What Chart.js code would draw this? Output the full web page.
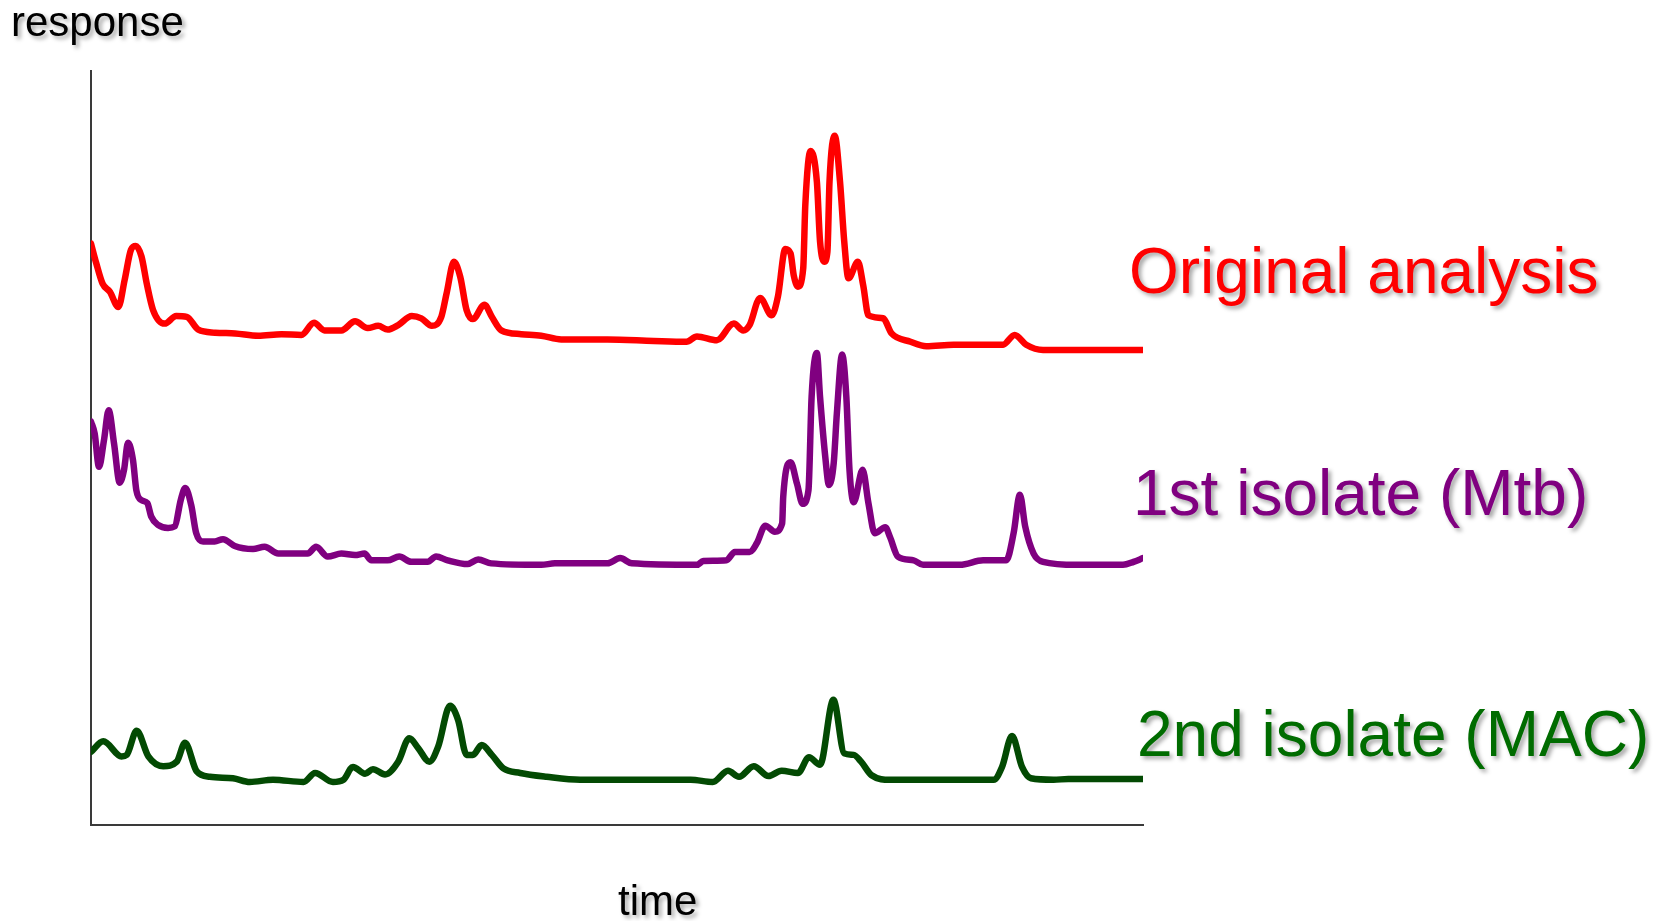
<!DOCTYPE html>
<html>
<head>
<meta charset="utf-8">
<title>response vs time</title>
<script src="https://cdn.jsdelivr.net/npm/chart.js@4.4.1/dist/chart.umd.min.js"></script>
<style>
    body { margin: 0; background: #fff; }
    #wrap { width: 1672px; height: 921px; }
</style>
</head>
<body>
<div id="wrap"><canvas id="traceChart" width="1672" height="921"></canvas></div>
<script>
//=============Trace data (time and response, both 0-100)====================//
const seriesLabels = ['Original analysis', '1st isolate (Mtb)', '2nd isolate (MAC)'];
const seriesColors = ['#ff0000', '#800080', '#034a03'];
const labelColors = ['#ff0000', '#800080', '#006c00'];

const originalTime = [0, 0.5, 1.1, 1.8, 2.6, 3.2, 3.8, 4.25, 4.8, 5.3, 5.9, 7.0, 8.1, 9.1, 10.2, 11.8, 13.7, 15.9, 18.1, 20.0,
    21.2, 22.2, 23.8, 25.1, 26.3, 27.3, 28.2, 29.2, 30.5, 31.4, 32.4, 33.3, 33.8, 34.5, 35.1, 35.7, 36.3, 37.4, 38.1, 39.0,
    40.9, 42.8, 44.7, 49.1, 53.5, 56.6, 57.6, 59.5, 61.1, 62.0, 62.6, 63.6, 64.7, 65.3, 66.0, 66.5, 66.8, 67.2, 67.7, 67.9,
    68.4, 69.0, 69.3, 69.7, 70.0, 70.2, 70.7, 71.2, 71.6, 72.0, 72.9, 73.4, 73.9, 75.3, 76.1, 77.9, 79.4, 82.0, 86.7, 87.8,
    88.9, 90.5, 100];
const originalResponse = [77.1, 74.5, 71.8, 70.7, 68.7, 72.3, 76.3, 76.8, 75.4, 71.8, 68.3, 66.5, 67.5, 67.4, 65.7, 65.3, 65.2, 64.9, 65.1, 65.0,
    66.6, 65.6, 65.6, 66.8, 65.9, 66.2, 65.7, 66.3, 67.5, 67.2, 66.2, 67.4, 70.5, 74.7, 72.7, 68.3, 67.1, 69.0, 67.4, 65.6,
    65.1, 64.9, 64.4, 64.4, 64.2, 64.1, 64.8, 64.3, 66.5, 65.6, 66.3, 69.9, 67.6, 70.1, 76.4, 75.8, 72.9, 71.4, 73.8, 82.2,
    89.4, 85.3, 77.4, 74.7, 76.0, 85.3, 91.4, 85.3, 77.4, 72.5, 74.7, 71.6, 67.6, 67.2, 65.2, 64.1, 63.5, 63.7, 63.7, 65.0,
    63.7, 63.0, 63.0];

const mtbTime = [0, 0.35, 0.76, 1.24, 1.68, 2.19, 2.73, 3.14, 3.52, 3.99, 4.31, 4.78, 5.35, 5.73, 6.37, 7.32, 7.96, 8.53, 8.96, 9.53,
    10.0, 10.65, 11.76, 12.55, 13.66, 15.4, 16.5, 17.8, 20.6, 21.4, 22.5, 23.8, 25.1, 26.0, 26.65, 28.2, 29.3, 30.45, 32.0, 32.8,
    33.9, 35.8, 36.8, 38.05, 42.8, 44.1, 49.1, 50.3, 51.4, 57.6, 58.2, 60.4, 61.2, 62.6, 63.3, 64.1, 65.0, 65.7, 65.8, 66.5,
    67.1, 67.65, 68.2, 68.5, 69.0, 69.3, 69.8, 70.15, 70.6, 70.9, 71.4, 71.8, 72.1, 72.5, 73.35, 73.9, 74.5, 75.5, 75.95, 76.7,
    78.2, 79.1, 82.6, 84.8, 87.0, 87.7, 88.3, 88.8, 89.6, 90.5, 93.7, 98.1, 99.1, 100];
const mtbResponse = [53.5, 51.9, 47.5, 51.1, 55.0, 50.6, 45.4, 47.1, 50.7, 48.4, 44.4, 43.1, 42.7, 40.9, 39.8, 39.4, 39.6, 43.1, 44.7, 42.4,
    38.7, 37.6, 37.6, 37.9, 37.0, 36.6, 36.9, 36.0, 36.0, 36.9, 35.6, 36.0, 35.8, 36.0, 35.1, 35.1, 35.6, 34.9, 34.9, 35.6,
    35.1, 34.6, 35.2, 34.7, 34.5, 34.7, 34.7, 35.4, 34.7, 34.5, 35.0, 35.1, 36.2, 36.2, 37.4, 39.7, 38.9, 40.0, 43.5, 48.1,
    45.3, 42.6, 44.4, 56.8, 62.6, 56.8, 48.8, 45.1, 48.0, 54.6, 62.4, 56.8, 47.1, 42.8, 47.1, 42.7, 38.7, 39.5, 38.2, 35.6,
    35.1, 34.5, 34.5, 35.1, 35.1, 38.7, 43.8, 39.6, 36.0, 34.9, 34.5, 34.5, 34.9, 35.4];

const macTime = [0, 1.17, 2.9, 3.4, 4.34, 5.45, 6.87, 8.15, 8.94, 10.05, 11.3, 13.5, 15.1, 17.3, 20.2, 21.3, 23.0, 24.0, 24.9, 26.05,
    26.8, 27.95, 29.2, 30.26, 31.1, 32.16, 33.0, 34.13, 34.9, 35.7, 36.3, 37.14, 38.1, 39.2, 40.8, 43.3, 46.5, 57.0, 59.1, 60.55,
    61.6, 63.0, 64.4, 65.65, 67.2, 68.25, 69.3, 70.57, 71.6, 72.5, 73.2, 74.2, 76.0, 85.8, 86.6, 87.55, 88.5, 89.35, 91.5, 92.9,
    100];
const macResponse = [9.7, 11.1, 9.1, 9.3, 12.5, 9.1, 7.8, 8.4, 10.9, 7.1, 6.4, 6.2, 5.7, 6.0, 5.7, 6.9, 5.7, 6.0, 7.7, 6.8,
    7.4, 6.7, 8.4, 11.5, 10.2, 8.4, 10.4, 15.8, 13.9, 9.3, 9.3, 10.6, 9.3, 7.5, 6.9, 6.4, 6.0, 6.0, 5.7, 7.2,
    6.4, 7.8, 6.5, 7.2, 6.9, 9.0, 8.0, 16.6, 9.5, 9.3, 8.4, 6.6, 6.0, 6.0, 7.7, 11.8, 7.7, 6.2, 6.0, 6.1,
    6.1];

// zip time + response into {x,y} points
function toPoints(times, values) {
    return times.map((t, i) => ({ x: t, y: values[i] }));
}

const traces = [
    toPoints(originalTime, originalResponse),
    toPoints(mtbTime, mtbResponse),
    toPoints(macTime, macResponse)
];

const FONT = '"Liberation Sans", Arial, sans-serif';

// text with soft grey drop shadow, like the slide
function shadowText(ctx, text, x, y, size, color) {
    ctx.save();
    ctx.font = size + 'px ' + FONT;
    ctx.fillStyle = color;
    ctx.textBaseline = 'alphabetic';
    ctx.textAlign = 'left';
    ctx.shadowColor = 'rgba(0,0,0,0.35)';
    ctx.shadowOffsetX = 3;
    ctx.shadowOffsetY = 3;
    ctx.shadowBlur = 4;
    ctx.fillText(text, x, y);
    ctx.restore();
}

//labels for axes and traces (no legend on the original)
const labelPlugin = {
    id: 'traceLabels',
    afterDraw(chart) {
        const ctx = chart.ctx;
        shadowText(ctx, 'response', 11, 36, 42, '#000');
        shadowText(ctx, 'time', 618, 915, 42, '#000');
        const labelPos = [[1129, 293], [1133, 515], [1137, 756]];
        seriesLabels.forEach((txt, i) => {
            shadowText(ctx, txt, labelPos[i][0], labelPos[i][1], 64, labelColors[i]);
        });
    }
};

const axisStyle = {
    type: 'linear',
    min: 0,
    max: 100,
    ticks: { display: false },
    grid: { display: false, drawTicks: false },
    border: { display: true, color: '#3a3a3a', width: 2 }
};

const ctx = document.getElementById('traceChart').getContext('2d');
new Chart(ctx, {
    type: 'line',
    data: {
        datasets: traces.map((pts, i) => ({
            label: seriesLabels[i],
            data: pts,
            borderColor: seriesColors[i],
            backgroundColor: seriesColors[i],
            borderWidth: 6.5,
            borderJoinStyle: 'round',
            borderCapStyle: 'round',
            pointRadius: 0,
            cubicInterpolationMode: 'monotone',
            fill: false
        }))
    },
    options: {
        responsive: false,
        animation: false,
        layout: {
            autoPadding: false,
            padding: { left: 91, top: 71, right: 529, bottom: 96 }
        },
        scales: {
            x: Object.assign({}, axisStyle),
            y: Object.assign({}, axisStyle)
        },
        plugins: {
            legend: { display: false },
            tooltip: { enabled: false },
            title: { display: false }
        }
    },
    plugins: [labelPlugin]
});
</script>
</body>
</html>
